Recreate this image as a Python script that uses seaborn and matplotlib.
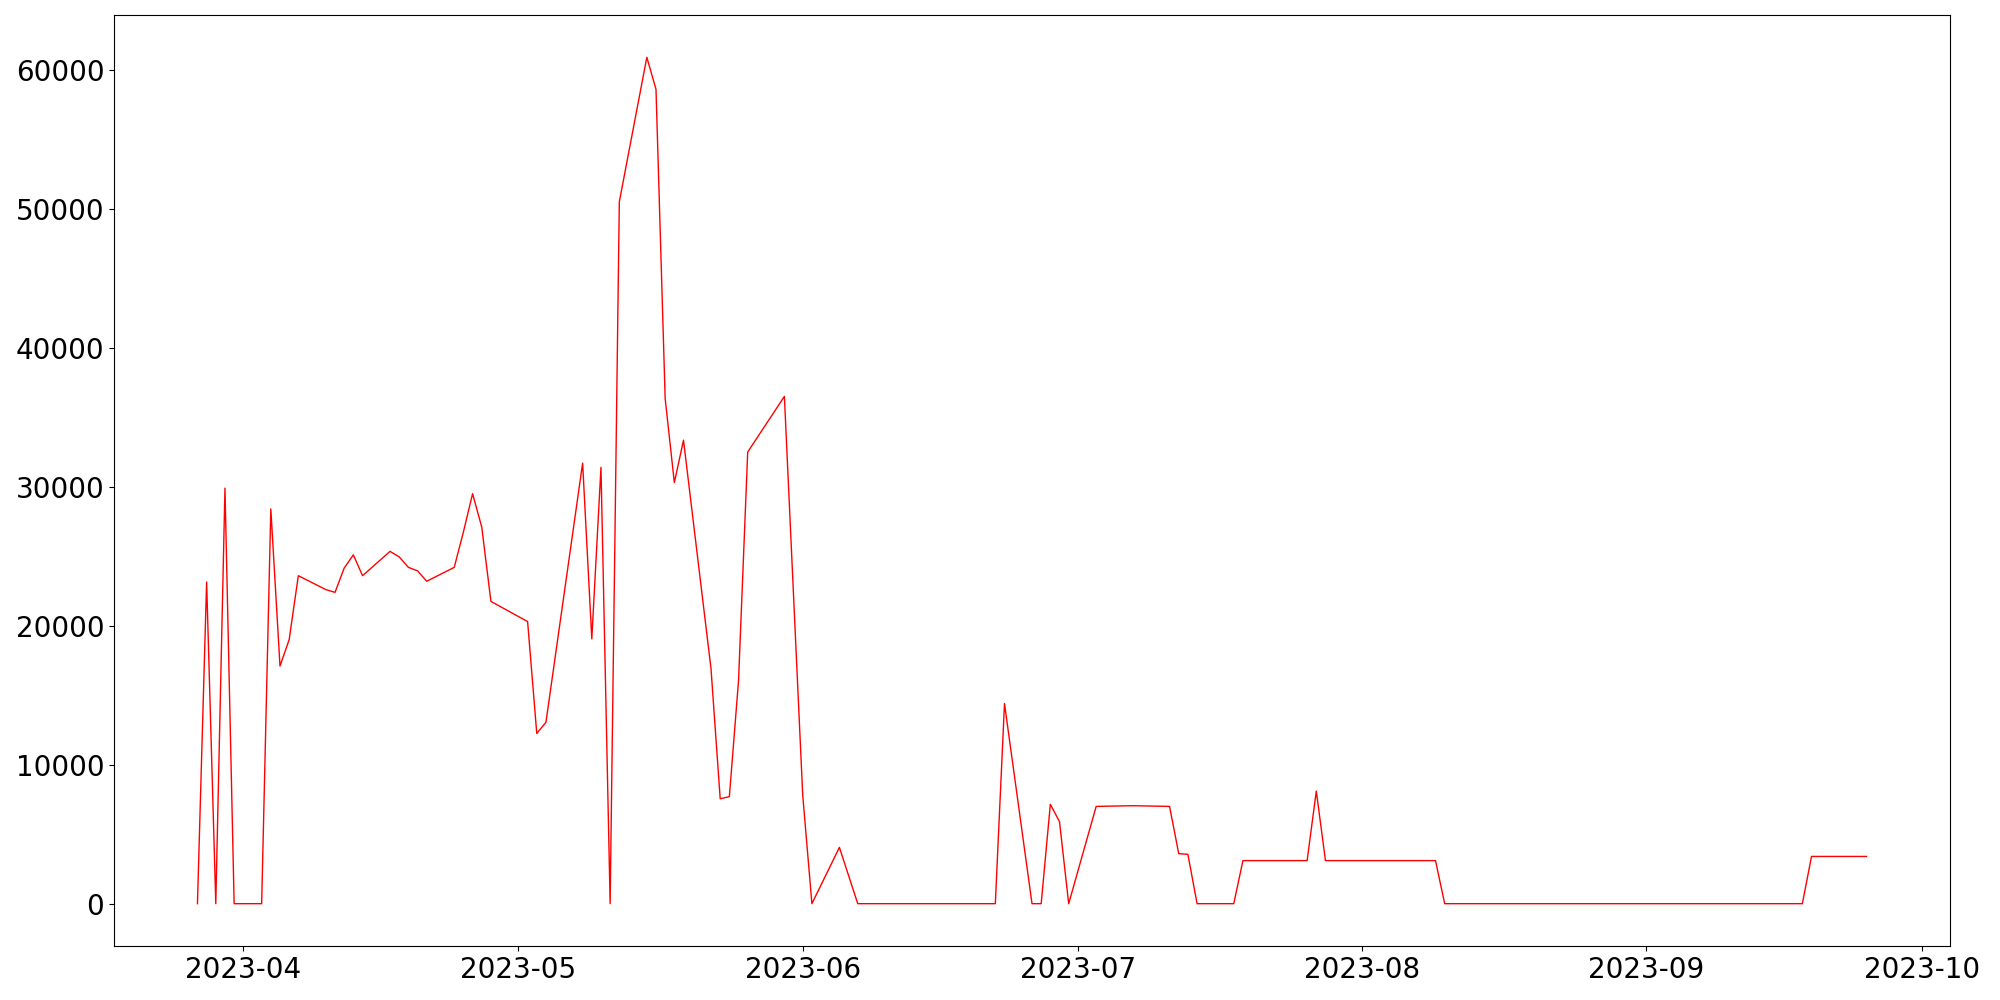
import matplotlib
matplotlib.use("Agg")
import matplotlib.pyplot as plt
import seaborn as sns
import pandas as pd

dates = [
    "2023-03-27", "2023-03-28", "2023-03-29", "2023-03-30", "2023-03-31",
    "2023-04-03", "2023-04-04", "2023-04-05", "2023-04-06", "2023-04-07",
    "2023-04-10", "2023-04-11", "2023-04-12", "2023-04-13", "2023-04-14",
    "2023-04-17", "2023-04-18", "2023-04-19", "2023-04-20", "2023-04-21",
    "2023-04-24", "2023-04-25", "2023-04-26", "2023-04-27", "2023-04-28",
    "2023-05-02", "2023-05-03", "2023-05-04", "2023-05-08", "2023-05-09",
    "2023-05-10", "2023-05-11", "2023-05-12", "2023-05-15", "2023-05-16",
    "2023-05-17", "2023-05-18", "2023-05-19", "2023-05-22", "2023-05-23",
    "2023-05-24", "2023-05-25", "2023-05-26", "2023-05-30", "2023-06-01",
    "2023-06-02", "2023-06-05", "2023-06-07", "2023-06-22", "2023-06-23",
    "2023-06-26", "2023-06-27", "2023-06-28", "2023-06-29", "2023-06-30",
    "2023-07-03", "2023-07-07", "2023-07-11", "2023-07-12", "2023-07-13",
    "2023-07-14", "2023-07-18", "2023-07-19", "2023-07-26", "2023-07-27",
    "2023-07-28", "2023-08-09", "2023-08-10", "2023-09-18", "2023-09-19",
    "2023-09-25",
]
values = [
    0, 23150, 0, 29900, 0,
    0, 28400, 17100, 19000, 23600,
    22600, 22400, 24150, 25100, 23600,
    25350, 24950, 24200, 23950, 23200,
    24200, 26750, 29500, 27100, 21750,
    20300, 12250, 13050, 31700, 19050,
    31400, 0, 50500, 60900, 58600,
    36350, 30300, 33350, 16900, 7550,
    7700, 16050, 32500, 36500, 7800,
    0, 4050, 0, 0, 14400,
    0, 0, 7150, 5900, 0,
    7000, 7050, 7000, 3600, 3550,
    0, 0, 3100, 3100, 8100,
    3100, 3100, 0, 0, 3400,
    3400,
]

df = pd.DataFrame({"date": pd.to_datetime(dates), "value": values})

fig, ax = plt.subplots(figsize=(20, 10), dpi=100)
sns.lineplot(data=df, x="date", y="value", color="red", linewidth=1, ax=ax)
ax.set_xlabel("")
ax.set_ylabel("")
ax.tick_params(axis="both", labelsize=20)
fig.subplots_adjust(left=0.057, right=0.975, top=0.985, bottom=0.054)
fig.savefig("out.png", dpi=100)
